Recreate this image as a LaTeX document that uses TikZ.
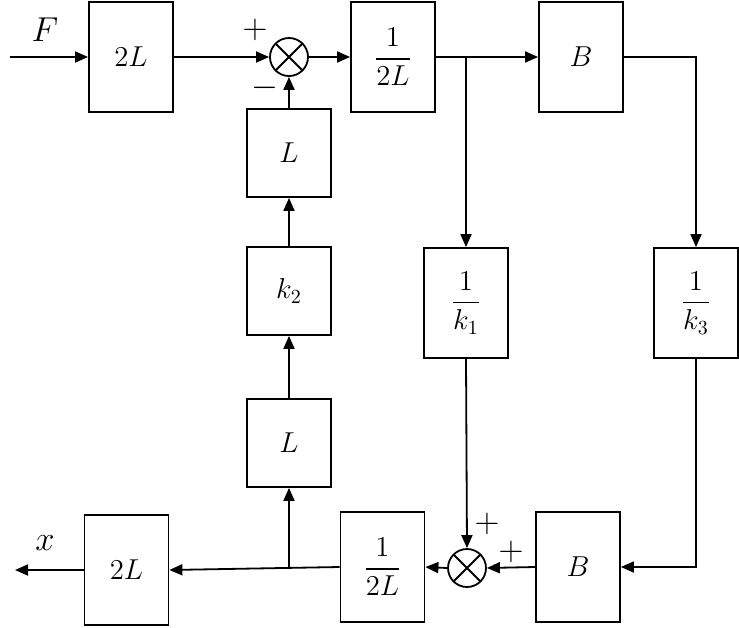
\documentclass[tikz,border=0pt]{standalone}
\usepackage{amsmath}
\usetikzlibrary{arrows.meta,positioning}
\tikzset{
  block/.style={draw, line width=0.9pt, minimum width=42pt, minimum height=55pt, inner sep=0pt, font=\Large},
  sblock/.style={block, minimum height=44pt},
  summer/.style={draw, circle, line width=0.9pt, minimum size=19pt, inner sep=0pt,
    path picture={\draw[line width=0.9pt] (path picture bounding box.north west) -- (path picture bounding box.south east)
      (path picture bounding box.north east) -- (path picture bounding box.south west);}},
  sign/.style={font=\LARGE, inner sep=0pt},
}
\begin{document}
\begin{tikzpicture}[
    x=0.5pt, y=-0.5pt, % pixel grid, y downwards
    >={Triangle[length=6.5pt,width=5.5pt]},
    line width=0.9pt,
  ]
    \useasboundingbox (0,0) rectangle (739,627);

    % forward path
    \node[block]  (in2L) at (131,57)  {$2L$};
    \node[summer] (sumA) at (289,57)  {};
    \node[block]  (invA) at (393,57)  {$\dfrac{1}{2L}$};
    \node[block]  (Btop) at (581,57)  {$B$};

    % feedback column
    \node[sblock] (Lup)  at (289,153) {$L$};
    \node[sblock] (k2)   at (289,291) {$k_2$};
    \node[sblock] (Llow) at (289,443) {$L$};

    \node[block]  (invk1) at (466,303) {$\dfrac{1}{k_1}$};
    \node[block]  (invk3) at (696,303) {$\dfrac{1}{k_3}$};

    % bottom row
    \node[block]  (out2L) at (126.5,570) {$2L$};
    \node[block]  (invB)  at (382.5,567) {$\dfrac{1}{2L}$};
    \node[summer] (sumB)  at (467,568)   {};
    \node[block]  (Bbot)  at (578,567)   {$B$};

    \coordinate (inF)  at (10,57);
    \coordinate (outx) at (15,570);
    \coordinate (tapA) at (invA.east -| invk1.north);
    \coordinate (tapB) at (Llow.south |- invB.west);

    \node[font=\LARGE] (lblF) at (45,30)  {$F$};
    \node[font=\LARGE] (lblx) at (45,543) {$x$};

    \node[sign] (pA) at (255,30)  {$+$};
    \node[sign] (mA) at (265,88)  {$-$};
    \node[sign] (pB) at (487,524) {$+$};
    \node[sign] (qB) at (511,552) {$+$};

    \draw [->] (inF) -- (in2L.west);
    \draw [->] (in2L.east) -- (sumA.west);
    \draw [->] (sumA.east) -- (invA.west);
    \draw [->] (invA.east) -- (Btop.west);
    \draw [->] (tapA) -- (invk1.north);
    \draw [->] (Btop.east) -| (invk3.north);
    \draw [->] (invk3.south) |- (Bbot.east);
    \draw [->] (Bbot.west) -- (sumB.east);
    \draw [->] (invk1.south) -- (sumB.north);
    \draw [->] (sumB.west) -- (invB.east);
    \draw [->] (invB.west) -- (out2L.east);
    \draw [->] (tapB) -- (Llow.south);
    \draw [->] (Llow.north) -- (k2.south);
    \draw [->] (k2.north) -- (Lup.south);
    \draw [->] (Lup.north) -- (sumA.south);
    \draw [->] (out2L.west) -- (outx);
  \end{tikzpicture}
\end{document}
